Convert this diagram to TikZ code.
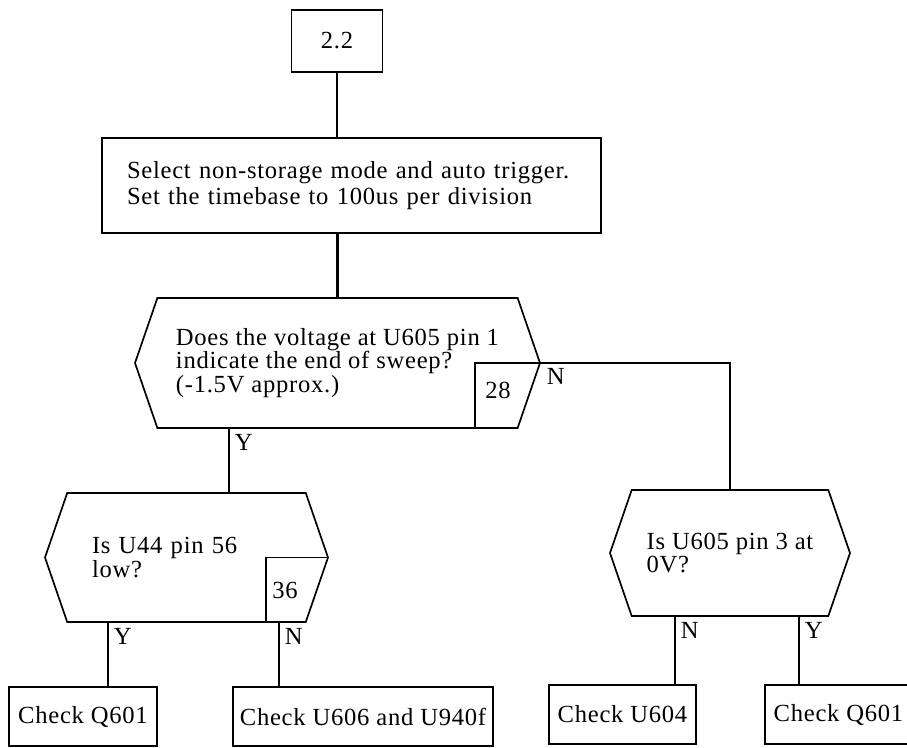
\documentclass[tikz,border=0pt]{standalone}
\usepackage{fontspec}
\setmainfont{Liberation Serif}[LetterSpace=3]
\usetikzlibrary{shapes.symbols}
\newcommand{\flowtext}{\fontsize{17.5}{17}\selectfont}

\begin{document}
\begin{tikzpicture}[
  box/.style={
    rectangle, draw=black, line width=1.2pt,
    inner sep=0pt, font=\flowtext
  },
  ask/.style={
    signal, signal to=west and east, signal pointer angle=142,
    draw=black, line width=1.2pt, inner sep=0pt,
    align=left, font=\flowtext
  },
  link/.style={line width=1.7pt},
  lbl/.style={font=\flowtext},
]
  \useasboundingbox (0,0) rectangle (22.675,-18.7);
  \clip (0,0) rectangle (22.675,-18.7);

  \node[box, minimum width=2.275cm, minimum height=1.55cm] (start) at (8.425,-1.025) {2.2};
  \node[box, minimum width=12.475cm, minimum height=2.375cm,
    text width=11.225cm, align=left] (setup) at (8.7875,-4.6375)
    {Select non-storage mode and auto trigger.\\[1pt]Set the timebase to 100us per division};

  \node[ask, minimum width=10.125cm, minimum height=3.25cm] (sweep) at (8.4375,-9.075)
    {Does the voltage at U605 pin 1\\indicate the end of sweep?\\(-1.5V approx.)};
  \node[ask, minimum width=7.075cm, minimum height=3.225cm, text width=4.725cm] (pin56) at (4.6625,-13.9375)
    {Is U44 pin 56\\low?};
  \node[ask, minimum width=6cm, minimum height=3.15cm] (pin3) at (18.25,-13.825)
    {Is U605 pin 3 at\\0V?};

  \node[box, minimum width=3.7cm, minimum height=1.475cm] (q601a) at (2.075,-17.9125) {Check Q601};
  \node[box, minimum width=6.5cm, minimum height=1.475cm] (u606) at (9.075,-17.9125) {Check U606 and U940f};
  \node[box, minimum width=3.675cm, minimum height=1.475cm] (u604) at (15.5625,-17.8625) {Check U604};
  \node[box, minimum width=3.675cm, minimum height=1.475cm] (q601b) at (20.9625,-17.8625) {Check Q601};

  % page tags in the decision boxes
  \draw[line width=1.2pt] (sweep.east) -- ++(-1.65,0) coordinate (t28) -- (t28 |- sweep.south);
  \node[lbl] (n28) at (12.45,-9.75) {28};
  \draw[line width=1.2pt] (pin56.east) -- ++(-1.575,0) coordinate (t36) -- (t36 |- pin56.south);
  \node[lbl] (n36) at (7.125,-14.75) {36};

  \coordinate (yes1) at ([xshift=-2.7125cm]sweep.south);
  \coordinate (yes2) at ([xshift=-1.9625cm]pin56.south);
  \coordinate (no2)  at ([xshift=2.3125cm]pin56.south);
  \coordinate (no3)  at ([xshift=-1.375cm]pin3.south);
  \coordinate (yes3) at ([xshift=1.725cm]pin3.south);

  \draw[link] (start.south) -- (start.south |- setup.north);
  \draw[link] (sweep.north) -- (sweep.north |- setup.south);
  \draw[link] (sweep.east) -| node[lbl, below right, pos=0] {N} (pin3.north);
  \draw[link] (yes1) -- node[lbl, below right, pos=0] {Y} (yes1 |- pin56.north);

  \draw[link] (yes2) -- node[lbl, below right, pos=0] {Y} (yes2 |- q601a.north);
  \draw[link] (no2) -- node[lbl, below right, pos=0] {N} (no2 |- u606.north);
  \draw[link] (no3) -- node[lbl, below right, pos=0] {N} (no3 |- u604.north);
  \draw[link] (yes3) -- node[lbl, below right, pos=0] {Y} (yes3 |- q601b.north);
\end{tikzpicture}
\end{document}
